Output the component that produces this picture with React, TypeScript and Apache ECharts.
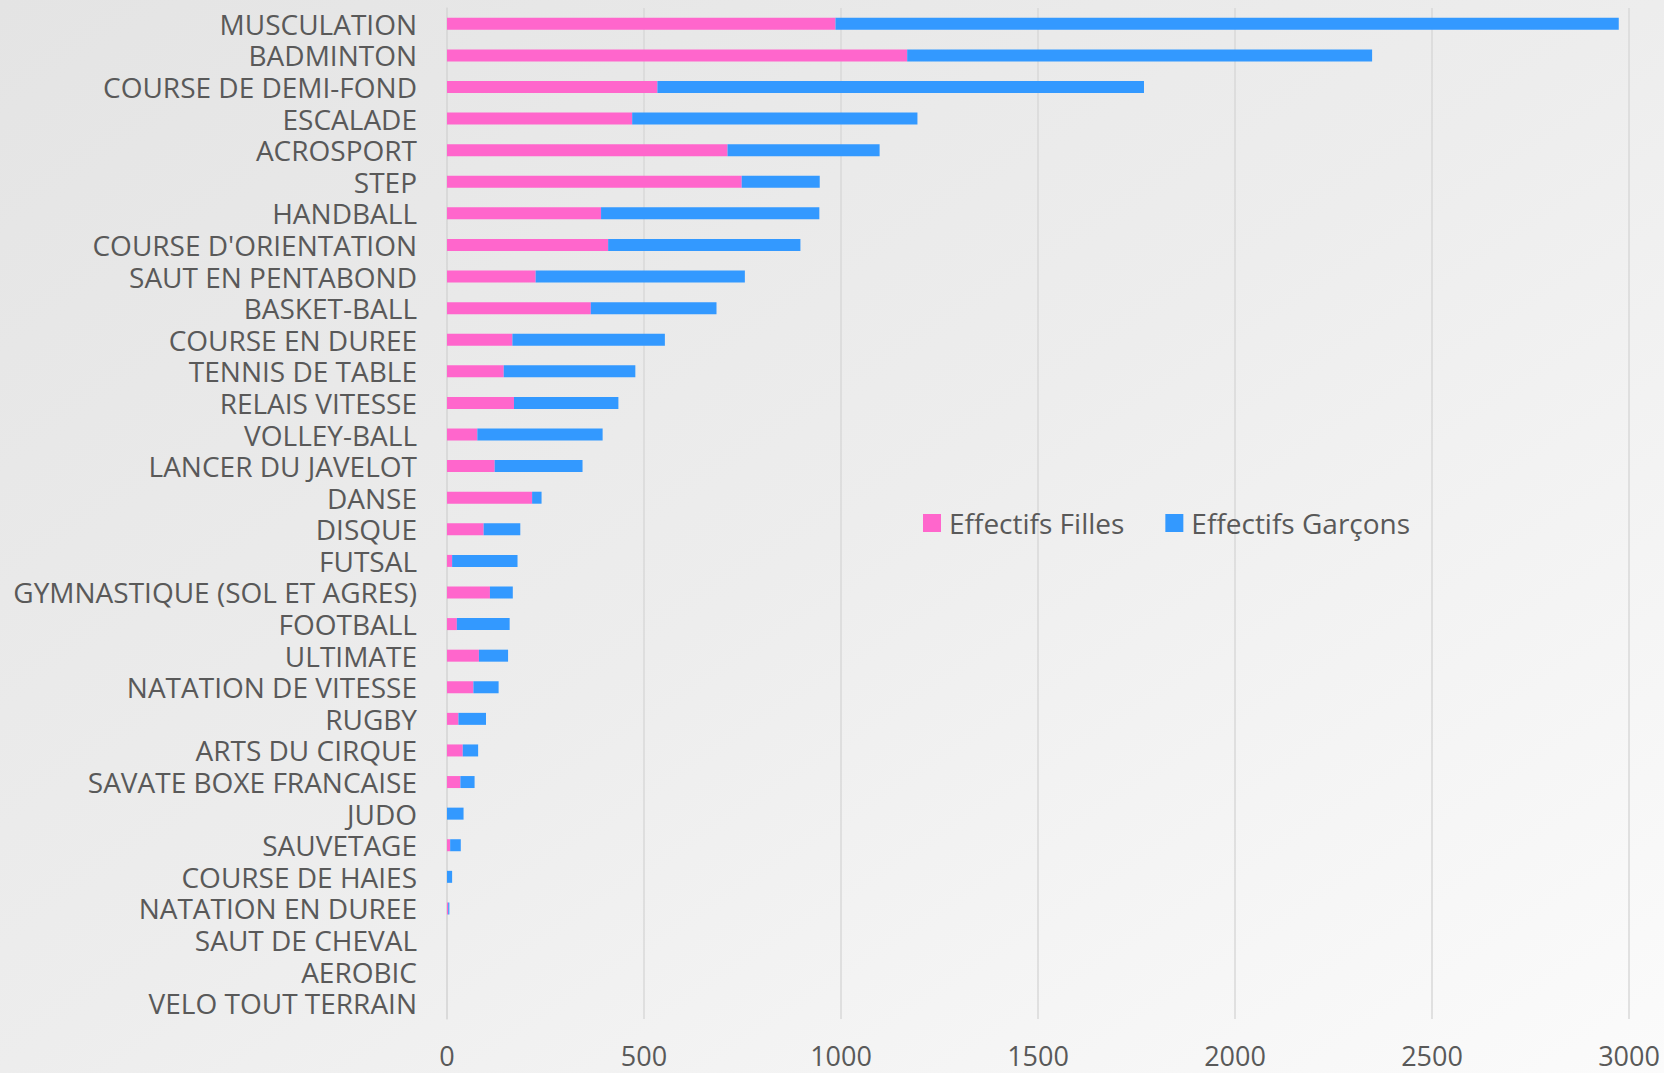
import React, { useEffect, useRef } from "react";
import * as echarts from "echarts";

const categories = [
  "MUSCULATION", "BADMINTON", "COURSE DE DEMI-FOND", "ESCALADE", "ACROSPORT", "STEP",
  "HANDBALL", "COURSE D'ORIENTATION", "SAUT EN PENTABOND", "BASKET-BALL", "COURSE EN DUREE",
  "TENNIS DE TABLE", "RELAIS VITESSE", "VOLLEY-BALL", "LANCER DU JAVELOT", "DANSE", "DISQUE",
  "FUTSAL", "GYMNASTIQUE (SOL ET AGRES)", "FOOTBALL", "ULTIMATE", "NATATION DE VITESSE",
  "RUGBY", "ARTS DU CIRQUE", "SAVATE BOXE FRANCAISE", "JUDO", "SAUVETAGE", "COURSE DE HAIES",
  "NATATION EN DUREE", "SAUT DE CHEVAL", "AEROBIC", "VELO TOUT TERRAIN",
];

const filles = [
  986, 1168, 534, 470, 712, 748, 391, 409, 225, 365, 166, 144, 170, 77, 121, 216, 93, 13, 109,
  25, 81, 67, 29, 40, 34, 0, 8, 0, 3, 0, 0, 0,
];

const garcons = [
  1988, 1180, 1235, 724, 386, 198, 554, 488, 531, 319, 387, 334, 265, 318, 223, 24, 93, 166, 58,
  134, 74, 64, 70, 39, 36, 42, 27, 13, 3, 0, 0, 0,
];

const xTicks = { min: 0, max: 3000, interval: 500 };

const FONT = "Open Sans";
const TEXT = "#595959";
const GRID = "#d9d9d9";

export default function App() {
  const ref = useRef<HTMLDivElement>(null);
  useEffect(() => {
    if (!ref.current) return;
    const chart = echarts.init(ref.current, null, { renderer: "svg" });
    chart.setOption({
      animation: false,
      backgroundColor: new echarts.graphic.LinearGradient(0, 0, 1, 1, [
        { offset: 0, color: "#e4e4e4" },
        { offset: 0.5, color: "#ededed" },
        { offset: 1, color: "#fbfbfb" },
      ]),
      textStyle: { fontFamily: FONT },
      grid: { left: 447, right: 35, top: 8, bottom: 54, containLabel: false },
      legend: {
        left: 918,
        top: 503,
        orient: "horizontal",
        icon: "rect",
        itemWidth: 18,
        itemHeight: 18,
        itemGap: 41,
        textStyle: {
          color: TEXT,
          fontSize: 28,
          lineHeight: 30,
          fontFamily: FONT,
          padding: [0, 0, 0, 3],
        },
        data: ["Effectifs Filles", "Effectifs Garçons"],
      },
      xAxis: {
        type: "value",
        min: xTicks.min,
        max: xTicks.max,
        interval: xTicks.interval,
        axisLine: { show: false },
        axisTick: { show: false },
        splitLine: { show: true, lineStyle: { color: GRID, width: 1.5 } },
        axisLabel: {
          color: TEXT,
          fontSize: 27,
          lineHeight: 24,
          fontFamily: FONT,
          margin: 24,
          formatter: (v: number) => String(v),
        },
      },
      yAxis: {
        type: "category",
        inverse: true,
        data: categories,
        axisLine: { show: true, lineStyle: { color: GRID, width: 1.5 } },
        axisTick: { show: false },
        axisLabel: {
          color: TEXT,
          fontSize: 28,
          lineHeight: 28,
          fontFamily: FONT,
          margin: 30,
          interval: 0,
        },
      },
      series: [
        {
          name: "Effectifs Filles",
          type: "bar",
          stack: "total",
          data: filles,
          barWidth: 12,
          itemStyle: { color: "#ff66cc" },
        },
        {
          name: "Effectifs Garçons",
          type: "bar",
          stack: "total",
          data: garcons,
          barWidth: 12,
          itemStyle: { color: "#3399ff" },
        },
      ],
    });
    return () => chart.dispose();
  }, []);
  return (
    <div
      ref={ref}
      style={{ position: "fixed", left: 0, top: 0, width: 1664, height: 1073 }}
    />
  );
}
